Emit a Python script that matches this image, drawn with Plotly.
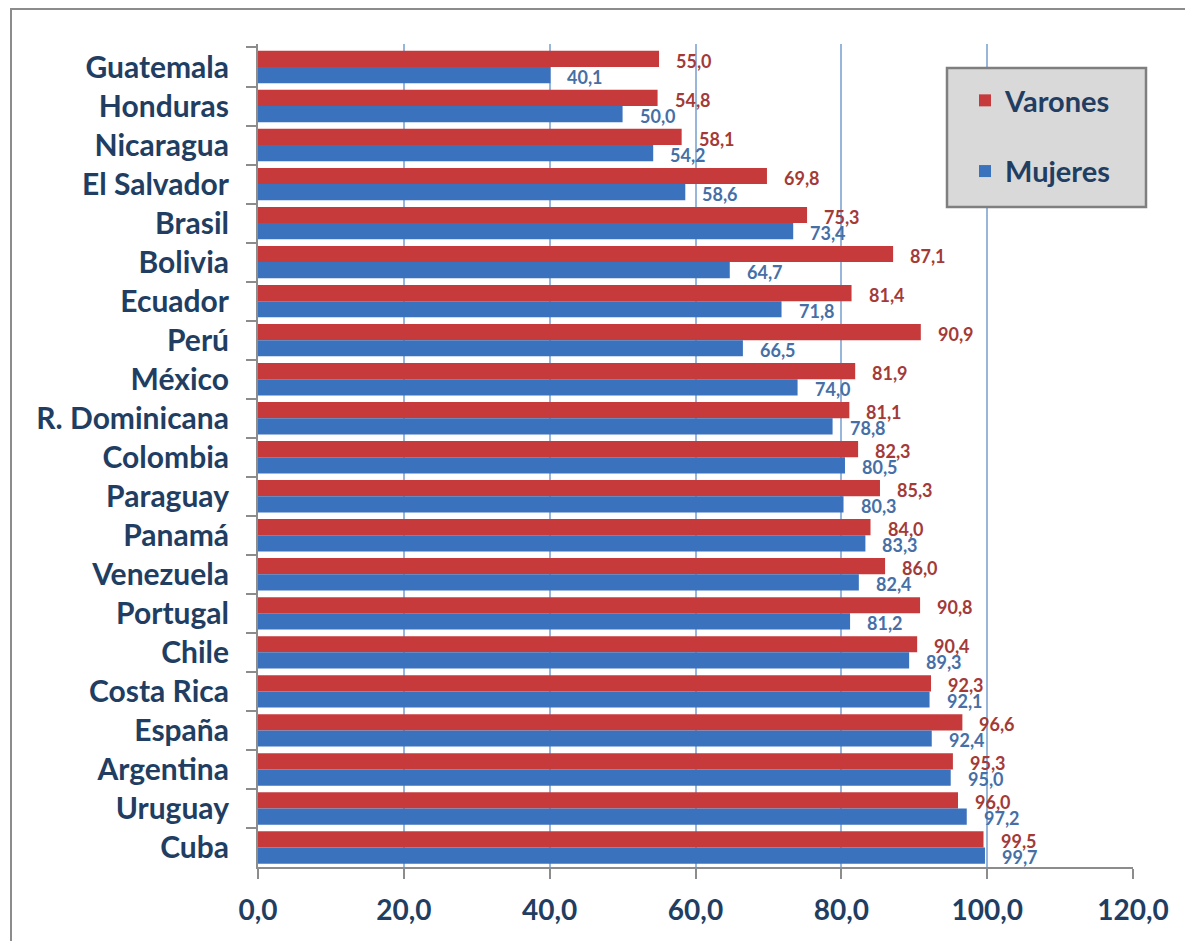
import plotly.graph_objects as go

countries = ["Guatemala", "Honduras", "Nicaragua", "El Salvador", "Brasil", "Bolivia",
             "Ecuador", "Perú", "México", "R. Dominicana", "Colombia", "Paraguay",
             "Panamá", "Venezuela", "Portugal", "Chile", "Costa Rica", "España",
             "Argentina", "Uruguay", "Cuba"]
varones = [55.0, 54.8, 58.1, 69.8, 75.3, 87.1, 81.4, 90.9, 81.9, 81.1, 82.3, 85.3,
           84.0, 86.0, 90.8, 90.4, 92.3, 96.6, 95.3, 96.0, 99.5]
mujeres = [40.1, 50.0, 54.2, 58.6, 73.4, 64.7, 71.8, 66.5, 74.0, 78.8, 80.5, 80.3,
           83.3, 82.4, 81.2, 89.3, 92.1, 92.4, 95.0, 97.2, 99.7]
x_ticks = [0, 20, 40, 60, 80, 100, 120]

W, H = 1193, 941
OFF = 8  # page body margin
# target screen pixels of the plot area
SL, SR, ST, SB = 258, 1133, 44, 867
L, T = SL - OFF, ST - OFF
R, B = W - (SR - OFF), H - (SB - OFF)
PW, PH = W - L - R, H - T - B

def px_x(p):
    return (p - OFF - L) / PW

def px_y(p):
    return 1 - (p - OFF - T) / PH

RED, BLUE = "#C63A3B", "#3B72BD"
RED_TXT, BLUE_TXT = "#A33A38", "#456FA6"
NAVY = "#213E62"
FONT = "Lato"

fig = go.Figure()
fig.add_trace(go.Bar(y=countries, x=varones, name="Varones", orientation="h",
                     marker=dict(color=RED, line=dict(width=0)),
                     legendgroup="v"))
fig.add_trace(go.Bar(y=countries, x=mujeres, name="Mujeres", orientation="h",
                     marker=dict(color=BLUE, line=dict(width=0)),
                     legendgroup="m"))

def fmt(v):
    return f"{v:.1f}".replace(".", ",")

annotations = []
for c, v in zip(countries, varones):
    annotations.append(dict(x=v, y=c, xref="x", yref="y", text=fmt(v), showarrow=False,
                            xanchor="left", yanchor="middle", xshift=15, yshift=6,
                            font=dict(family=FONT, size=18, color=RED_TXT, weight="bold")))
for c, v in zip(countries, mujeres):
    annotations.append(dict(x=v, y=c, xref="x", yref="y", text=fmt(v), showarrow=False,
                            xanchor="left", yanchor="middle", xshift=15, yshift=-10,
                            font=dict(family=FONT, size=18, color=BLUE_TXT, weight="bold")))

shapes = [
    # outer frame
    dict(type="rect", xref="paper", yref="paper",
         x0=px_x(11), x1=px_x(1220), y0=px_y(970), y1=px_y(9),
         line=dict(color="#8C8C8C", width=2), fillcolor="rgba(0,0,0,0)", layer="below"),
    # legend box
    dict(type="rect", xref="paper", yref="paper",
         x0=px_x(947), x1=px_x(1146), y0=px_y(207), y1=px_y(68),
         line=dict(color="#7F7F7F", width=2.5), fillcolor="#D9D9D9", layer="above"),
]

fig.update_layout(
    width=W, height=H,
    margin=dict(l=L, r=R, t=T, b=B),
    paper_bgcolor="white", plot_bgcolor="white",
    barmode="group", bargap=0.17, bargroupgap=0,
    separators=",.",
    font=dict(family=FONT, color=NAVY),
    showlegend=True,
    legend=dict(x=px_x(965), y=px_y(75), xanchor="left", yanchor="top",
                bgcolor="rgba(0,0,0,0)", borderwidth=0,
                traceorder="grouped", tracegroupgap=30,
                font=dict(family=FONT, size=29, color=NAVY, weight="bold")),
    xaxis=dict(range=[0, 120], tickvals=x_ticks, tickformat=".1f",
               showgrid=True, gridcolor="#98B5DA", gridwidth=2,
               zeroline=False, showline=True, linecolor="#8C8C8C", linewidth=2,
               ticks="outside", ticklen=10, tickwidth=2, tickcolor="#8C8C8C",
               ticklabelstandoff=7,
               tickfont=dict(family=FONT, size=28, color=NAVY, weight="bold")),
    yaxis=dict(autorange="reversed", type="category",
               showgrid=False, zeroline=False, showline=True,
               linecolor="#8C8C8C", linewidth=2,
               ticks="outside", ticklen=10, tickwidth=2, tickcolor="#8C8C8C",
               tickson="boundaries", ticklabelstandoff=21,
               tickfont=dict(family=FONT, size=30, color=NAVY, weight="bold")),
    annotations=annotations,
    shapes=shapes,
)

fig.write_html("out.html")
